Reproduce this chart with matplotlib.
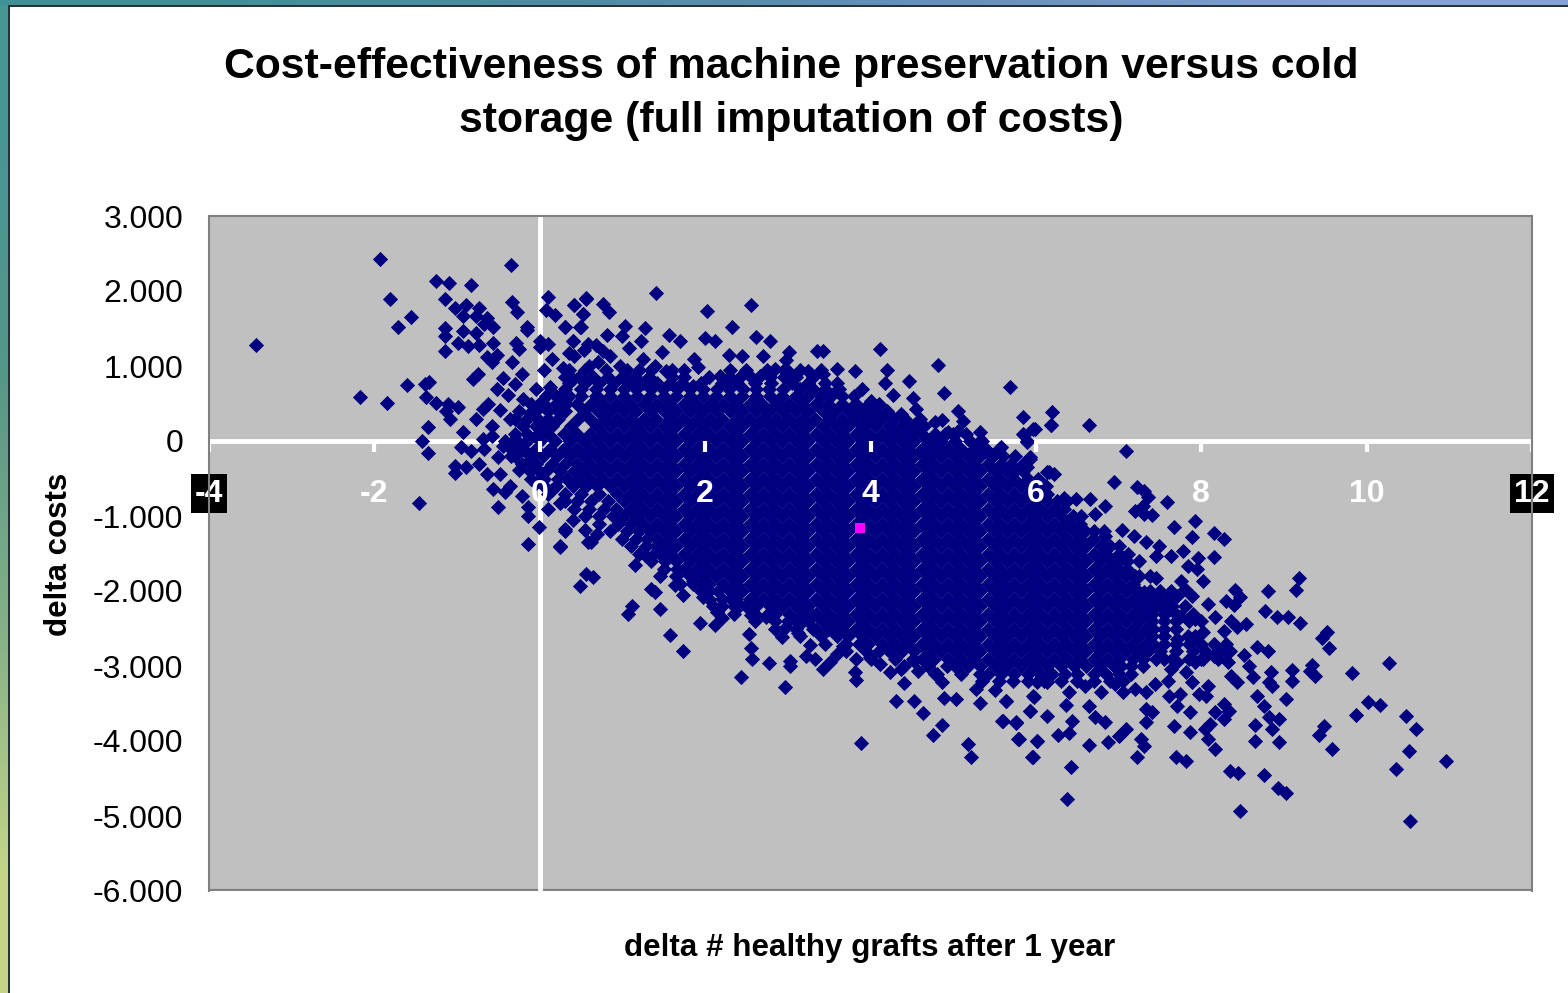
import numpy as np
import matplotlib
matplotlib.use("Agg")
import matplotlib.pyplot as plt
from matplotlib.patches import Rectangle

plt.rcParams['font.family'] = ['Liberation Sans', 'DejaVu Sans']
plt.rcParams['axes.unicode_minus'] = False

title = 'Cost-effectiveness of machine preservation versus cold\nstorage (full imputation of costs)'
x_label = 'delta # healthy grafts after 1 year'
y_label = 'delta costs'
x_ticks = [-4, -2, 0, 2, 4, 6, 8, 10, 12]
y_ticks = [3000, 2000, 1000, 0, -1000, -2000, -3000, -4000, -5000, -6000]
y_tick_labels = ['3.000', '2.000', '1.000', '0', '-1.000', '-2.000', '-3.000', '-4.000', '-5.000', '-6.000']

mean_point = (3.87, -1160)

# single runs, (delta grafts, delta costs)
edge_left = [(-1.93,2427),(-0.35,2350),(-1.25,2137),(-1.10,2107),(-0.83,2085),(-1.81,1893),(-1.15,1893),(0.105,1925),
    (-1.56,1658),(-1.71,1520),(-3.43,1285),(-1.15,1505),(-1.15,1405),(-1.15,1200),(-0.93,1470),(-0.77,1445),(-0.99,1305),
    (-0.87,1265),(-0.74,1285),(-0.57,1305),(-1.03,1770),(-0.89,1815),(-0.93,1665),(-0.73,1770),(-0.77,1665),(-0.64,1640),
    (-0.67,1560),(-0.57,1525),(-0.33,1850),(-0.27,1720),(-0.16,1520),(-0.15,1480),(0.07,1745),(0.18,1685),(0.42,1820),
    (0.56,1905),(0.30,1525),(0.50,1525),(0.52,1695),(-0.29,1305),(-0.25,1225),(0,1335),(0.10,1290),(0,1250),(0.40,1335),
    (0.54,1215),(-0.64,1120),(-0.52,1145),(-0.58,1055),(-0.34,1050),(-1.61,750),(-2.17,590),(-1.85,510),(-1.39,760),
    (-1.34,785),(-1.37,585),(-1.25,510),(-1.11,490),(-0.99,455),(-1.13,405),(-1.08,295),(-1.35,190),(-1.42,5),(-1.35,-155),
    (-1.46,-820),(-1.03,-335),(-0.89,-345),(-1.03,-430),(-0.93,120),(-0.95,-85),(-0.83,-130),(-0.73,-310),(-0.64,-440),
    (-0.81,825),(-0.75,890),(-0.69,425),(-0.63,490),(-0.77,295),(-0.58,205),(-0.58,70),(-0.69,25),(-0.67,-105),(-0.51,-215),
    (-0.48,-440),(-0.57,-640),(-0.42,-680),(-0.51,-880),(-0.36,-600),(-0.22,-730),(-0.14,-880),(-0.14,-995),(-0.01,-1140),
    (-0.14,-1375),(0.24,-1395),(0.30,-1175),(0.58,-1350),(-0.52,700),(-0.45,840),(-0.38,620),(-0.30,760),(-0.22,900),
    (-0.48,420),(-0.36,300),(-0.20,560),(-0.12,380),(-0.05,700),(0.05,950),(0.15,1100),(0.02,520),(0.12,720),(0.28,980),
    (-0.45,-60),(-0.30,30),(-0.35,-200),(-0.20,-100),(-0.05,50),(-0.12,-250),(-0.25,-380),(0.02,-420),(-0.05,-560),(0.15,-650),
    (0.25,-820),(0.40,-1050),(0.10,-900),(0.55,-1180),(0.70,1050),(0.35,1180),(0.68,1280)]

edge_top = [(1.41,1978),(0.56,1893),(0.42,1818),(0.76,1827),(0.84,1716),(0.52,1693),(0.30,1524),(0.49,1516),(2.02,1738),
    (2.55,1818),(2.33,1524),(1.03,1538),(1.27,1502),(0.81,1418),(0.996,1404),(0.40,1338),(0.58,1293),(1.56,1418),(1.70,1338),
    (2.00,1369),(2.12,1338),(2.62,1391),(2.79,1338),(1.22,1338),(1.08,1236),(1.48,1182),(3.35,1204),(3.43,1204),(4.12,1231),
    (2.29,1151),(2.44,1138),(2.70,1138),(3.01,1182),(1.87,1093),(1.91,982),(2.98,1084),(0.77,1205),(0.42,1129),(0.85,1138),
    (3.59,965),(3.81,938),(4.20,947),(4.82,1013),(4.46,804),(4.17,769),(3.90,698),(4.27,618),(4.00,538),(4.89,645),(5.69,725),
    (4.51,573),(4.55,427),(5.06,405),(5.12,271),(5.84,325),(6.20,382),(6.18,218),(5.99,160),(5.86,85),(5.89,-4),(5.58,-75),
    (5.33,116),(5.31,-18),(4.78,249),(4.86,285),(4.29,293),(4.37,360),(4.43,204),(4.53,138),(4.94,116),(5.06,138),(2.18,871),
    (2.42,849),(2.66,871),(2.84,960),(3.02,916),(3.24,938),(3.43,893),(3.55,627),(3.79,471),(3.91,382),(1.53,938),(1.85,738),
    (1.25,1093),(1.39,1005),(0.97,1005),(0.60,1005),(0.40,827),(0.24,604),(0.69,604),(4.27,116),(4.59,-151),(4.80,-62),
    (5.44,-195),(5.68,-373),(5.93,-240),(6.13,-418)]

edge_right = [(6.64,213),(6.18,213),(5.97,160),(5.84,93),(5.89,-9),(7.09,-129),(5.93,-218),(5.89,-351),(5.69,-374),(6.16,-418),
    (6.22,-440),(6.95,-551),(7.22,-618),(7.31,-662),(7.35,-751),(6.83,-862),(7.58,-818),(6.34,-765),(6.48,-774),(6.66,-774),
    (6.72,-974),(7.20,-929),(7.31,-974),(7.40,-987),(7.29,-862),(7.92,-1062),(7.67,-1142),(7.89,-1276),(8.16,-1227),(8.28,-1307),
    (7.04,-1187),(7.19,-1271),(6.83,-1262),(8.16,-1542),(7.96,-1565),(7.78,-1462),(7.33,-1351),(7.49,-1396),(7.45,-1529),
    (7.63,-1529),(7.84,-1662),(7.95,-1707),(8.02,-1862),(7.76,-1862),(7.45,-1831),(7.20,-1796),(9.18,-1831),(9.15,-1982),
    (8.81,-1996),(8.41,-1982),(8.47,-2085),(8.30,-2129),(8.40,-2187),(8.08,-2173),(8.77,-2262),(8.92,-2351),(9.05,-2342),
    (9.20,-2427),(9.52,-2542),(9.46,-2631),(9.54,-2756),(8.17,-2342),(8.36,-2396),(8.54,-2440),(8.43,-2485),(8.28,-2529),
    (8.67,-2742),(8.81,-2796),(10.27,-2960),(9.82,-3093),(9.34,-2982),(9.32,-3062),(9.37,-3138),(9.10,-3053),(9.10,-3204),
    (8.84,-3084),(8.82,-3218),(8.86,-3262),(8.52,-2853),(8.58,-3004),(8.36,-3138),(8.43,-3218),(8.63,-3151),(8.67,-3396),
    (9.03,-3440),(8.76,-3538),(10.02,-3484),(10.16,-3516),(9.87,-3649),(10.48,-3671),(10.60,-3840),(9.48,-3804),(9.42,-3920),
    (9.58,-4107),(8.94,-3707),(8.82,-3684),(8.85,-3840),(8.65,-3782),(8.65,-3996),(8.94,-4018),(10.51,-4129),(10.96,-4262),
    (10.36,-4373),(8.35,-4396),(8.45,-4427),(8.76,-4449),(8.93,-4631),(9.03,-4693),(8.47,-4929),(10.53,-5062),(8.02,-2907),
    (7.93,-2951),(7.71,-2951),(7.84,-2596),(7.71,-2640),(8.02,-2551),(7.93,-2373),(7.76,-2329),(7.58,-2285),(7.45,-2196),
    (7.49,-2018),(7.71,-2062),(7.89,-2062),(7.80,-1973),(7.31,-2240),(7.31,-2018),(8.15,-2862),(8.30,-2818),(8.32,-2951),
    (7.63,-3040),(7.60,-3196),(7.82,-3084),(7.89,-3218),(7.97,-3373),(8.08,-3262),(8.06,-3396)]

edge_bottom = [(0.25,-1409),(0.62,-1351),(0.69,-1240),(0.30,-1195),(1.15,-1649),(0.56,-1773),(0.64,-1809),(0.49,-1937),(1.29,-1529),
    (1.39,-2017),(1.35,-1973),(1.63,-1915),(1.73,-2048),(1.46,-2240),(1.12,-2204),(1.07,-2306),(1.94,-2426),(2.12,-2453),(2.21,-2364),
    (1.58,-2582),(1.73,-2795),(2.53,-2573),(2.55,-2760),(2.57,-2906),(2.77,-2955),(3.03,-2928),(3.03,-2995),(2.43,-3142),(2.96,-3275),
    (3.12,-2560),(2.93,-2617),(3.27,-2715),(3.22,-2871),(3.33,-2906),(3.43,-3040),(3.51,-2951),(3.59,-2840),(3.67,-2728),(3.81,-3084),
    (3.83,-3182),(3.88,-4022),(3.83,-2906),(3.99,-2884),(4.11,-2973),(4.23,-3084),(4.41,-3226),(4.37,-3040),(4.57,-3062),(4.53,-2928),
    (4.78,-3106),(4.87,-3217),(4.31,-3462),(4.53,-3462),(4.63,-3622),(4.89,-3431),(5.04,-3440),(4.87,-3782),(4.75,-3915),(5.18,-4040),
    (5.21,-4217),(5.33,-3488),(5.28,-3306),(5.50,-3315),(5.64,-3462),(5.98,-3417),(5.93,-3595),(5.59,-3728),(5.76,-3755),(5.79,-3968),
    (6.01,-3995),(5.96,-4213),(6.01,-3217),(1.85,-1862),(1.97,-2084),(2.34,-2017),(2.42,-2186),(2.56,-2320),(2.74,-2351),(2.98,-2484),
    (3.18,-2395),(3.31,-2328),(3.53,-2506),(2.10,-2195),(2.14,-2284),(6.38,-4773),(6.42,-4342),(5.95,-4209),(7.22,-4209),(7.69,-4209),
    (7.82,-4262),(8.17,-4107),(8.08,-3973),(8.04,-3840),(7.86,-3884),(7.67,-3804),(8.10,-3773),(8.28,-3707),(8.17,-3618),(8.28,-3507),
    (8.34,-3596),(7.86,-3609),(7.71,-3538),(7.61,-3396),(7.74,-3373),(7.33,-3573),(7.40,-3618),(7.33,-3751),(7.27,-3973),(7.31,-4062),
    (7.09,-3840),(7.00,-3929),(6.87,-4018),(6.64,-4053),(6.40,-3893),(6.27,-3916),(6.44,-3729),(6.13,-3671),(5.93,-3596),(5.76,-3751),
    (5.60,-3729),(5.78,-3973),(6.01,-3996),(5.64,-3462),(5.97,-3404),(6.36,-3516),(6.64,-3529),(6.72,-3684),(6.83,-3751),(6.14,-3218),
    (6.40,-3351),(6.59,-3262),(6.79,-3351),(6.96,-3240),(7.05,-3351),(7.20,-3307),(7.33,-3351),(7.44,-3240)]

# the dense middle of the cloud, estimated band by band since single points cannot be told apart there
core_costs = [700, 600, 500, 400, 300, 200, 100, 0, -100, -200, -300, -400, -500, -600, -700, -800, -900, -1000, -1100, -1200]
core_grafts = [
    [0.85,1.02,1.17,1.34,1.49,1.66,1.82,1.97,2.14,2.29,2.46,2.62,2.77,2.94],
    [0.68,0.85,1.02,1.18,1.33,1.50,1.65,1.82,1.98,2.13,2.30,2.45,2.62,2.78,2.93,3.10,3.25,3.40],
    [0.45,0.62,0.77,0.94,1.09,1.26,1.42,1.57,1.74,1.89,2.06,2.22,2.37,2.54,2.69,2.86,3.02,3.17,3.34,3.49,3.66,3.82],
    [0.30,0.53,0.70,0.85,1.02,1.17,1.34,1.50,1.65,1.82,1.97,2.14,2.30,2.45,2.62,2.77,2.94,3.10,3.25,3.42,3.57,3.74,3.90,4.05],
    [0.22,0.46,0.61,0.78,0.93,1.10,1.26,1.41,1.58,1.73,1.90,2.06,2.21,2.38,2.53,2.70,2.86,3.01,3.18,3.33,3.50,3.66,3.81,3.98,4.13,4.27],
    [0.15,0.38,0.69,0.85,1.02,1.18,1.33,1.50,1.65,1.82,1.98,2.13,2.30,2.45,2.62,2.78,2.93,3.10,3.25,3.42,3.58,3.73,3.90,4.05,4.22,4.38,4.52],
    [0.10,0.29,0.45,0.61,0.77,0.94,1.10,1.25,1.42,1.57,1.74,1.90,2.05,2.22,2.37,2.54,2.70,2.85,3.02,3.17,3.34,3.50,3.65,3.82,3.97,4.14,4.30,4.45,4.62,4.78,4.90],
    [0.00,0.18,0.37,0.53,0.69,0.85,1.02,1.18,1.33,1.50,1.65,1.82,1.98,2.13,2.30,2.45,2.62,2.78,2.93,3.10,3.25,3.42,3.58,3.73,3.90,4.05,4.22,4.38,4.53,4.70,4.85,5.02],
    [0.12,0.29,0.45,0.61,0.77,0.94,1.10,1.25,1.42,1.57,1.74,1.90,2.05,2.22,2.37,2.54,2.70,2.85,3.02,3.17,3.34,3.50,3.65,3.82,3.97,4.14,4.30,4.45,4.62,4.77,4.94,5.10,5.25],
    [0.21,0.37,0.53,0.69,0.85,1.02,1.18,1.33,1.50,1.65,1.82,1.98,2.13,2.30,2.45,2.62,2.78,2.93,3.10,3.25,3.42,3.58,3.73,3.90,4.05,4.22,4.38,4.53,4.70,4.85,5.02,5.18,5.33,5.48],
    [0.31,0.45,0.61,0.77,0.94,1.10,1.25,1.42,1.57,1.74,1.90,2.05,2.22,2.37,2.54,2.70,2.85,3.02,3.17,3.34,3.50,3.65,3.82,3.97,4.14,4.30,4.45,4.62,4.77,4.94,5.10,5.25,5.42,5.58],
    [0.41,0.53,0.69,0.85,1.02,1.18,1.33,1.50,1.65,1.82,1.98,2.13,2.30,2.45,2.62,2.78,2.93,3.10,3.25,3.42,3.58,3.73,3.90,4.05,4.22,4.38,4.53,4.70,4.85,5.02,5.18,5.33,5.50,5.65,5.75],
    [0.47,0.61,0.77,0.94,1.10,1.25,1.42,1.57,1.74,1.90,2.05,2.22,2.37,2.54,2.70,2.85,3.02,3.17,3.34,3.50,3.65,3.82,3.97,4.14,4.30,4.45,4.62,4.77,4.94,5.10,5.25,5.42,5.57,5.74,5.90],
    [0.56,0.69,0.85,1.02,1.18,1.33,1.50,1.65,1.82,1.98,2.13,2.30,2.45,2.62,2.78,2.93,3.10,3.25,3.42,3.58,3.73,3.90,4.05,4.22,4.38,4.53,4.70,4.85,5.02,5.18,5.33,5.50,5.65,5.82,5.98],
    [0.72,0.94,1.10,1.25,1.42,1.57,1.74,1.90,2.05,2.22,2.37,2.54,2.70,2.85,3.02,3.17,3.34,3.50,3.65,3.82,3.97,4.14,4.30,4.45,4.62,4.77,4.94,5.10,5.25,5.42,5.57,5.74,5.90,6.05,6.14],
    [0.82,1.02,1.18,1.33,1.50,1.65,1.82,1.98,2.13,2.30,2.45,2.62,2.78,2.93,3.10,3.25,3.42,3.58,3.73,3.90,4.05,4.22,4.38,4.53,4.70,4.85,5.02,5.18,5.33,5.50,5.65,5.82,5.98,6.13,6.25],
    [0.92,1.10,1.25,1.42,1.57,1.74,1.90,2.05,2.22,2.37,2.54,2.70,2.85,3.02,3.17,3.34,3.50,3.65,3.82,3.97,4.14,4.30,4.45,4.62,4.77,4.94,5.10,5.25,5.42,5.57,5.74,5.90,6.05,6.22,6.34],
    [1.02,1.18,1.33,1.50,1.65,1.82,1.98,2.13,2.30,2.45,2.62,2.78,2.93,3.10,3.25,3.42,3.58,3.73,3.90,4.05,4.22,4.38,4.53,4.70,4.85,5.02,5.18,5.33,5.50,5.65,5.82,5.98,6.13,6.30,6.45],
    [1.10,1.25,1.42,1.57,1.74,1.90,2.05,2.22,2.37,2.54,2.70,2.85,3.02,3.17,3.34,3.50,3.65,3.82,3.97,4.14,4.30,4.45,4.62,4.77,4.94,5.10,5.25,5.42,5.57,5.74,5.90,6.05,6.22,6.38,6.53],
    [1.20,1.33,1.50,1.65,1.82,1.98,2.13,2.30,2.45,2.62,2.78,2.93,3.10,3.25,3.42,3.58,3.73,3.90,4.05,4.22,4.38,4.53,4.70,4.85,5.02,5.18,5.33,5.50,5.65,5.82,5.98,6.13,6.30,6.46,6.60],
]
lower_costs = [-1300, -1400, -1500, -1600, -1700, -1800, -1900, -2000, -2100, -2200, -2300, -2400, -2500, -2600, -2700, -2800, -2900, -3000, -3100]
lower_grafts = [
    [1.30,1.42,1.57,1.74,1.90,2.05,2.22,2.37,2.54,2.70,2.85,3.02,3.17,3.34,3.50,3.65,3.82,3.97,4.14,4.30,4.45,4.62,4.77,4.94,5.10,5.25,5.42,5.57,5.74,5.90,6.05,6.22,6.38,6.53,6.69],
    [1.40,1.50,1.65,1.82,1.98,2.13,2.30,2.45,2.62,2.78,2.93,3.10,3.25,3.42,3.58,3.73,3.90,4.05,4.22,4.38,4.53,4.70,4.85,5.02,5.18,5.33,5.50,5.65,5.82,5.98,6.13,6.30,6.46,6.61,6.79],
    [1.45,1.57,1.74,1.90,2.05,2.22,2.37,2.54,2.70,2.85,3.02,3.17,3.34,3.50,3.65,3.82,3.97,4.14,4.30,4.45,4.62,4.77,4.94,5.10,5.25,5.42,5.57,5.74,5.90,6.05,6.22,6.38,6.53,6.70,6.85],
    [1.52,1.65,1.82,1.98,2.13,2.30,2.45,2.62,2.78,2.93,3.10,3.25,3.42,3.58,3.73,3.90,4.05,4.22,4.38,4.53,4.70,4.85,5.02,5.18,5.33,5.50,5.65,5.82,5.98,6.13,6.30,6.46,6.61,6.78,6.93,7.00],
    [1.66,1.74,1.90,2.05,2.22,2.37,2.54,2.70,2.85,3.02,3.17,3.34,3.50,3.65,3.82,3.97,4.14,4.30,4.45,4.62,4.77,4.94,5.10,5.25,5.42,5.57,5.74,5.90,6.05,6.22,6.38,6.53,6.70,6.86,7.01,7.10],
    [1.82,1.98,2.13,2.30,2.45,2.62,2.78,2.93,3.10,3.25,3.42,3.58,3.73,3.90,4.05,4.22,4.38,4.53,4.70,4.85,5.02,5.18,5.33,5.50,5.65,5.82,5.98,6.13,6.30,6.46,6.61,6.78,6.94,7.09],
    [1.96,2.05,2.22,2.37,2.54,2.70,2.85,3.02,3.17,3.34,3.50,3.65,3.82,3.97,4.14,4.30,4.45,4.62,4.77,4.94,5.10,5.25,5.42,5.58,5.74,5.90,6.05,6.22,6.38,6.53,6.70,6.86,7.01,7.17],
    [2.16,2.30,2.45,2.62,2.78,2.93,3.10,3.25,3.42,3.58,3.73,3.90,4.05,4.22,4.38,4.53,4.70,4.85,5.02,5.18,5.33,5.50,5.65,5.82,5.98,6.13,6.30,6.46,6.61,6.78,6.94,7.09,7.24],
    [2.31,2.37,2.54,2.70,2.85,3.02,3.17,3.34,3.50,3.65,3.82,3.97,4.14,4.30,4.45,4.62,4.77,4.94,5.10,5.25,5.42,5.58,5.74,5.90,6.05,6.22,6.38,6.53,6.70,6.86,7.01,7.17,7.30],
    [2.50,2.62,2.78,2.93,3.10,3.25,3.42,3.58,3.73,3.90,4.05,4.22,4.38,4.53,4.70,4.85,5.02,5.18,5.33,5.50,5.65,5.82,5.98,6.13,6.30,6.46,6.61,6.78,6.94,7.09,7.25,7.35],
    [2.76,2.85,3.02,3.17,3.34,3.50,3.65,3.82,3.97,4.14,4.30,4.45,4.62,4.77,4.94,5.10,5.25,5.42,5.58,5.74,5.90,6.05,6.22,6.38,6.53,6.70,6.86,7.01,7.17,7.33,7.40],
    [3.00,3.10,3.25,3.42,3.58,3.73,3.90,4.05,4.22,4.38,4.53,4.70,4.85,5.02,5.18,5.33,5.50,5.65,5.82,5.98,6.13,6.30,6.46,6.61,6.78,6.94,7.09,7.25,7.40],
    [3.30,3.34,3.50,3.65,3.82,3.97,4.14,4.30,4.45,4.62,4.77,4.94,5.10,5.25,5.42,5.58,5.74,5.90,6.05,6.22,6.38,6.53,6.70,6.86,7.01,7.17,7.33,7.42],
    [3.60,3.73,3.90,4.05,4.22,4.38,4.53,4.70,4.85,5.02,5.18,5.33,5.50,5.65,5.82,5.98,6.13,6.30,6.46,6.61,6.78,6.94,7.09,7.25,7.40],
    [3.86,3.97,4.14,4.30,4.45,4.62,4.77,4.94,5.10,5.25,5.42,5.58,5.74,5.90,6.05,6.22,6.38,6.53,6.70,6.86,7.01,7.17,7.33,7.42],
    [4.10,4.22,4.38,4.53,4.70,4.85,5.02,5.18,5.33,5.50,5.65,5.82,5.98,6.13,6.30,6.46,6.61,6.78,6.94,7.09,7.25,7.35],
    [4.52,4.62,4.77,4.94,5.10,5.25,5.42,5.58,5.74,5.90,6.05,6.22,6.38,6.53,6.70,6.86,7.01,7.17],
    [4.92,5.02,5.18,5.33,5.50,5.65,5.82,5.98,6.13,6.30,6.46,6.61,6.78,6.94,7.03],
    [5.32,5.42,5.58,5.74,5.90,6.05,6.20],
]

# looser runs around the solid part, top and left side, then the lower and right rim
rim_costs = [950, 850, 770, 700, 600, 500, 400, 300, 200, 100, 0, -100, -200, -300, -400, -500, -600, -700, -800, -900,
             -1000, -1100, -1200, -1300, -1400, -1500, -1600, -1700, -1800, -1900, -2000, -2100, -2200, -2300, -2400,
             -2500, -2600, -2700, -2800, -2900, -3000, -3100, -3200]
rim_grafts = [
    [0.35,0.55,0.80,1.05,1.20,1.35,1.60,1.75,2.30,2.50,2.75,2.95,3.15,3.40],
    [0.30,0.48,0.65,0.82,1.00,1.15,1.32,1.60,1.75,2.05,2.30,2.55,2.78,2.95,3.10,3.30],
    [0.35,0.55,0.72,0.90,1.08,1.25,1.42,1.58,1.72,1.95,2.20,2.38,2.60,2.80,3.05,3.25,3.45,3.60],
    [0.30,0.50,0.68,3.15,3.30,3.45,3.62],
    [0.08,0.20,0.35,0.50,3.50,3.65,3.80],
    [-0.10,0.05,0.20,0.32,3.98,4.10],
    [-0.25,-0.05,0.10,0.22,4.20],
    [-0.30,-0.15,-0.02,0.10,4.42,4.60],
    [-0.20,-0.05,0.05,4.65],
    [-0.30,-0.15,-0.02,5.00,5.15],
    [-0.42,-0.28,-0.15,5.20,5.35],
    [-0.35,-0.20,-0.05,5.40,5.55],
    [-0.30,-0.12,0.04,5.60,5.75],
    [-0.22,-0.05,0.15,5.70,5.85],
    [-0.12,0.08,0.25,5.85],
    [-0.10,0.05,0.22,0.33,6.02],
    [0.05,0.20,0.40,6.12],
    [0.10,0.30,0.50],
    [0.30,0.45,0.62,6.38],
    [0.42,0.60,0.78],
    [0.55,0.72,0.88,6.55],
    [0.72,0.95],
    [0.85,1.05,6.70,6.82],
    [1.00,1.17],
    [1.10,1.28,6.90,7.00],
    [1.20,1.38,7.00,7.12],
    [1.35,7.10,7.25],
    [1.50],
    [1.45,1.65,7.25,7.38],
    [1.70,1.85],
    [1.95,2.05,7.38,7.50,7.64],
    [2.05,2.20,7.42,7.58],
    [2.20,2.35,7.50,7.65,7.80],
    [2.35,2.60,7.55,7.70,7.90],
    [2.60,2.85,7.55,7.70,7.85,8.00],
    [2.85,3.10,7.55,7.70],
    [3.15,3.40,7.55,7.92],
    [3.45,3.70,7.55,7.70,7.85,8.00,8.15,8.30],
    [3.70,3.95,7.50,7.70,7.90,8.05,8.20,8.35],
    [4.00,4.30,7.30,7.45,7.55,7.65,7.85,8.00,8.20],
    [4.40,4.70,7.15,7.30],
    [4.80,5.10,6.35,6.50,6.70,6.85,7.00,7.15],
    [5.35,5.55,5.72,5.90,6.10,6.30,6.50,6.70,6.90,7.05],
]

# backdrop colours of the slide behind the chart
strip_left = [[(70,150,150)], [(85,150,135)], [(130,175,135)], [(195,212,135)]]
strip_top = [[(64,145,150), (80,140,165), (105,145,190), (132,162,212)]]

fig = plt.figure(figsize=(15.68, 9.93), dpi=100, facecolor='white')

# slide edges
a = fig.add_axes([0, 0, 8/1568, 1])
a.imshow(np.array(strip_left, dtype=np.uint8), aspect='auto', interpolation='bilinear')
a.axis('off')
a = fig.add_axes([0, 1-5/993, 1, 5/993])
a.imshow(np.array(strip_top, dtype=np.uint8), aspect='auto', interpolation='bilinear')
a.axis('off')
fig.add_artist(Rectangle((8/1568, 0), 2/1568, 1-5/993, transform=fig.transFigure, color='#26343a', lw=0))
fig.add_artist(Rectangle((8/1568, 1-7/993), 1-8/1568, 2/993, transform=fig.transFigure, color='#26343a', lw=0))

ax = fig.add_axes([209/1568, 102/993, 1323/1568, 675/993])
ax.set_facecolor('#C0C0C0')
ax.set_xlim(-4, 12)
ax.set_ylim(-6000, 3000)

for s in ['top', 'left', 'right']:
    ax.spines[s].set_color('#808080')
    ax.spines[s].set_linewidth(1.5)
ax.spines['bottom'].set_position(('data', 0))
ax.spines['bottom'].set_color('white')
ax.spines['bottom'].set_linewidth(3.5)
ax.spines['bottom'].set_zorder(0.6)
ax.plot([-4, 12], [-6000, -6000], color='#808080', lw=3, zorder=0.5)
ax.axvline(0, color='white', lw=3.5, zorder=0.6)

ax.set_xticks(x_ticks)
ax.set_yticks(y_ticks)
ax.set_yticklabels(y_tick_labels)
ax.tick_params(axis='y', length=0, pad=18.5, labelsize=23, labelcolor='black')
ax.tick_params(axis='x', length=8, width=3, color='white', pad=19, labelsize=23, labelcolor='white')
for lab in ax.get_xticklabels():
    lab.set_fontweight('bold')
for i in [0, -1]:
    ax.get_xticklabels()[i].set_bbox(dict(facecolor='black', edgecolor='none', pad=3))

gx = []
gy = []
for pts in [edge_left, edge_top, edge_right, edge_bottom]:
    for p in pts:
        gx.append(p[0])
        gy.append(p[1])
for c, row in zip(core_costs + lower_costs + rim_costs, core_grafts + lower_grafts + rim_grafts):
    for v in row:
        gx.append(v)
        gy.append(c)

ax.scatter(gx, gy, marker='D', s=60, color='#000080', linewidths=0, zorder=1)
ax.scatter([mean_point[0]], [mean_point[1]], marker='s', s=60, color='#FF00FF', linewidths=0, zorder=3)

fig.text(791/1568, 1-94/993, title, ha='center', va='center', fontsize=30.8, fontweight='bold', linespacing=1.44)
fig.text(870/1568, 1-948/993, x_label, ha='center', va='center', fontsize=22.6, fontweight='bold')
fig.text(59/1568, 1-554/993, y_label, ha='center', va='center', rotation=90, fontsize=22.5, fontweight='bold')

plt.savefig('out.png', dpi=100)
